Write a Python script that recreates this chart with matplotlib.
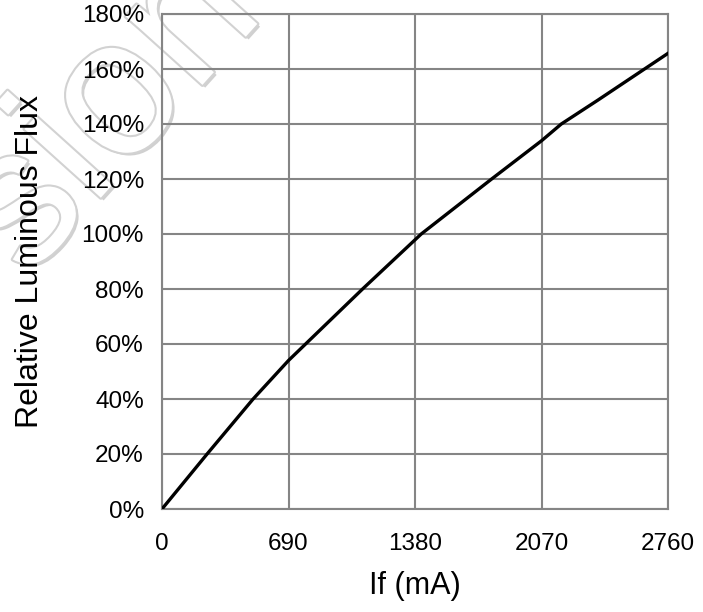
import matplotlib
matplotlib.use("Agg")
import matplotlib.pyplot as plt
import matplotlib.patheffects as pe

plt.rcParams['font.family'] = ['Liberation Sans', 'DejaVu Sans']

current_ma = [0, 246, 497, 690, 1094, 1414, 1798, 2070, 2178, 2378, 2760]
rel_flux = [0, 20.0, 40.0, 54.0, 80.0, 100.0, 120.0, 133.9, 140.0, 148.7, 165.7]
x_ticks = [0, 690, 1380, 2070, 2760]
y_ticks = [0, 20, 40, 60, 80, 100, 120, 140, 160, 180]
watermark = "sion"

fig = plt.figure(figsize=(7.03, 6.12), dpi=100)
ax = fig.add_axes([162/703, 1-509/612, (668-162)/703, (509-14)/612])

# watermark (behind everything)
fig.text(0.155, 0.815, watermark, fontsize=140, rotation=48, color='white',
         ha='center', va='center', zorder=-5,
         path_effects=[pe.SimplePatchShadow(offset=(2, -2), shadow_rgbFace='#bdbdbd', alpha=0.7),
                       pe.withStroke(linewidth=3, foreground='#d2d2d2')])

ax.set_facecolor('none')
ax.plot(current_ma, rel_flux, color='black', lw=2.4, zorder=3)
ax.set_xlim(0, 2760)
ax.set_ylim(0, 180)
ax.set_xticks(x_ticks)
ax.set_xticklabels([str(v) for v in x_ticks])
ax.set_yticks(y_ticks)
ax.set_yticklabels([f"{v}%" for v in y_ticks])
ax.grid(True, color='#858585', lw=1.5)
for s in ax.spines.values():
    s.set_color('#858585')
    s.set_linewidth(1.5)
ax.tick_params(length=0, labelsize=17.5, pad=13)
ax.tick_params(axis='x', pad=17)
ax.set_xlabel("If (mA)", fontsize=22, labelpad=12)
ax.set_ylabel("Relative Luminous Flux", fontsize=23, labelpad=26)

fig.savefig("out.png", dpi=100)
